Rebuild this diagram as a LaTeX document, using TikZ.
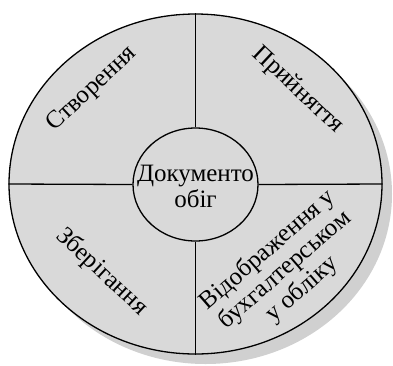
\documentclass[tikz,border=0pt]{standalone}
\usepackage{fontspec}
\setmainfont{Liberation Serif}
\usetikzlibrary{shapes.geometric,shadows}
\definecolor{discfill}{RGB}{217,217,217}
\definecolor{shadowfill}{RGB}{208,208,208}
\tikzset{
  disc/.style={ellipse, draw=black, line width=1.3pt, fill=discfill, inner sep=0pt},
  divider/.style={draw=black, line width=1.3pt},
  label/.style={font=\rmfamily\fontsize{25}{26}\selectfont, align=center, inner sep=0pt}
}
\begin{document}
\begin{tikzpicture}[x=1pt,y=-1pt]
\useasboundingbox (0,0) rectangle (393,365);
\node[disc, minimum width=373pt, minimum height=340pt,
  drop shadow={shadow xshift=10pt, shadow yshift=-10pt, fill=shadowfill, opacity=1}] (outer) at (195.5,184) {};
\node[disc, minimum width=125pt, minimum height=113pt] (doc) at (195.5,184.5) {};
\draw[divider] (outer.north) -- (doc.north);
\draw[divider] (doc.south) -- (outer.south);
\draw[divider] (outer.west) -- (doc.west);
\draw[divider] (doc.east) -- (outer.east);
\node[label] (doclabel) at (195.5,186) {Документо\\обіг};
\node[label, rotate=43] (create) at (92,89) {Створення};
\node[label, rotate=-43] (accept) at (298,90) {Прийняття};
\node[label, rotate=-43] (store) at (102,272) {Зберігання};
\node[label, rotate=41] (reflect) at (285,270) {Відображення у\\бухгалтерськом\\у обліку};
\end{tikzpicture}
\end{document}
